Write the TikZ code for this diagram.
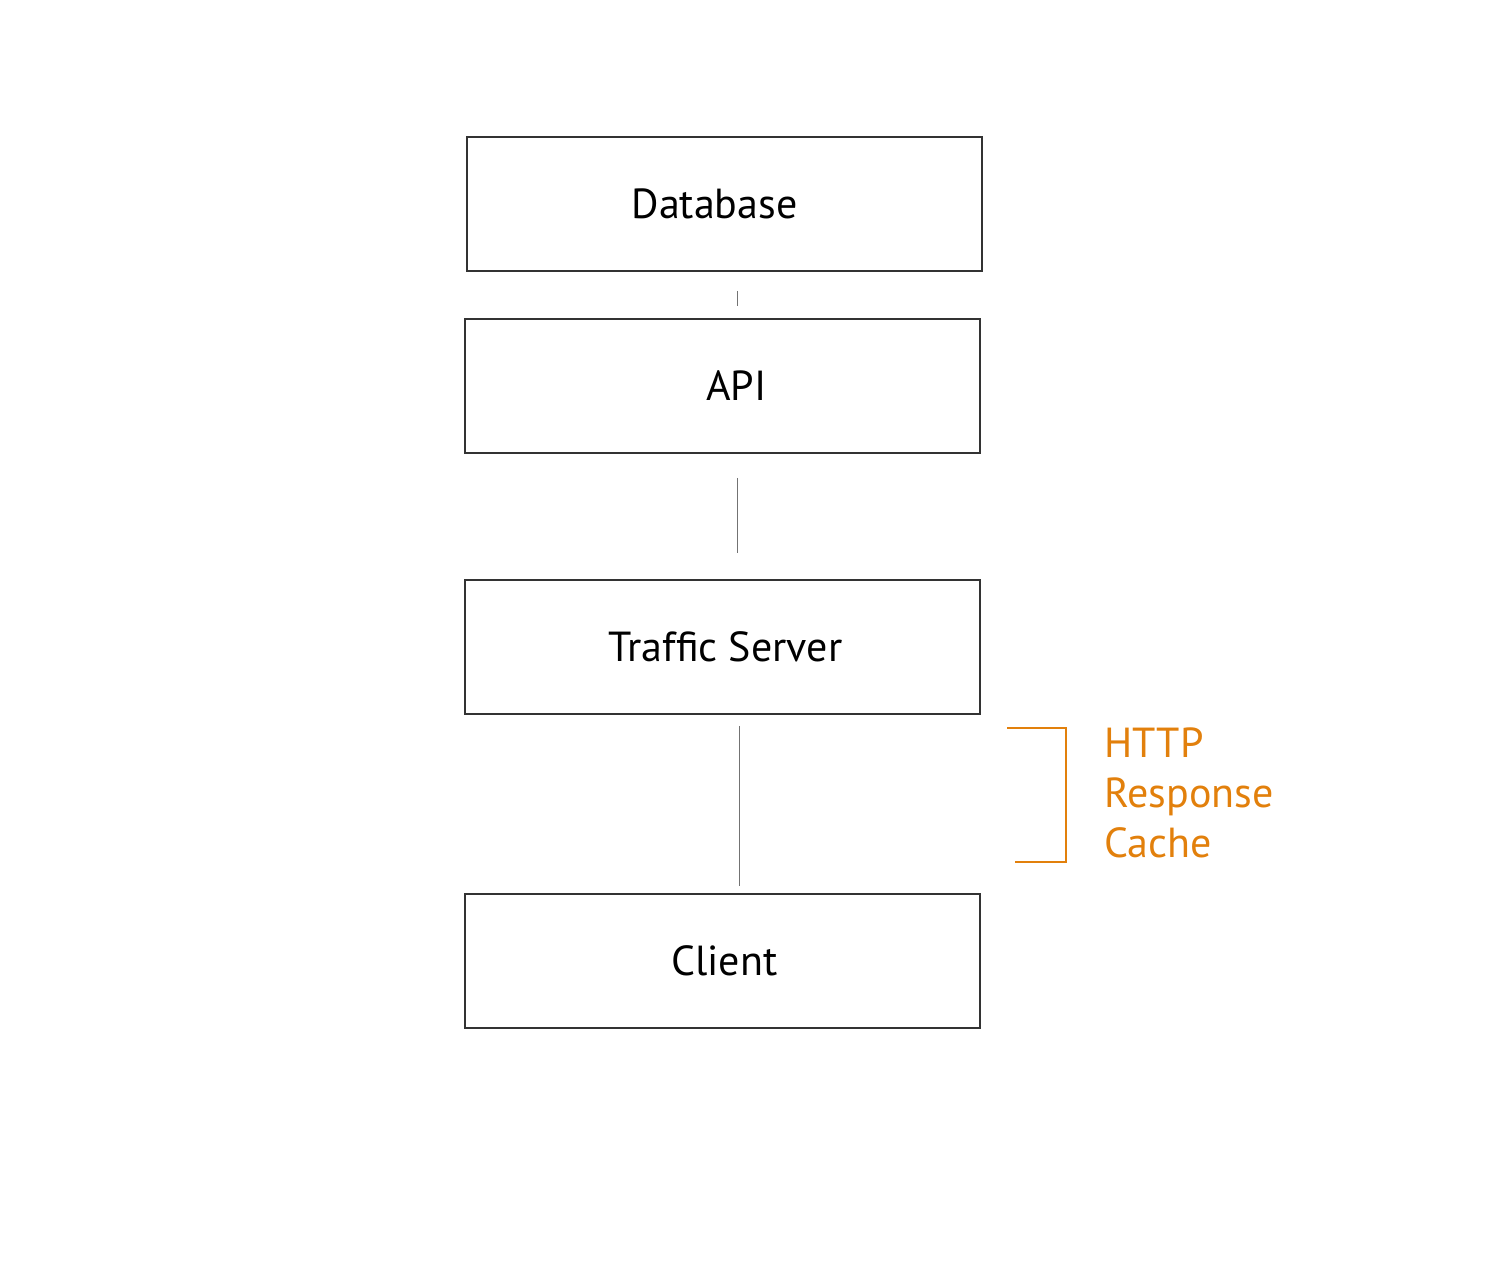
\documentclass[tikz,border=0pt]{standalone}
\usepackage{fontspec}
\setmainfont{PT Sans}
\usetikzlibrary{positioning}
\definecolor{cacheorange}{RGB}{226,128,12}
\tikzset{
  tier/.style={draw=black!80,line width=0.75pt,minimum width=257.5pt,minimum height=67pt,font=\fontsize{21}{25}\selectfont},
  link/.style={draw=black!55,line width=0.5pt}
}
\begin{document}
\begin{tikzpicture}[x=0.5pt,y=-0.5pt]
  \useasboundingbox (0,0) rectangle (1494,1287);
  \node[tier] (db) at (724.5,204) {Database\kern10pt};
  \node[tier] (api) at (722.5,386) {\hspace{14pt}API};
  \node[tier] (ts) at (722.5,647) {\hspace{3pt}Traffic Server};
  \node[tier] (client) at (722.5,961) {\hspace{2pt}Client};
  \draw[link,shorten <=9.5pt,shorten >=6pt] ([xshift=6.5pt]db.south) -- ([xshift=7.5pt]api.north);
  \draw[link,shorten <=12pt,shorten >=13pt] ([xshift=7.5pt]api.south) -- ([xshift=7.5pt]ts.north);
  \draw[link,shorten <=5.5pt,shorten >=3.5pt] ([xshift=8.5pt]ts.south) -- ([xshift=8.5pt]client.north);
  % cache bracket
  \coordinate (bt) at (1007,728);
  \coordinate (bb) at (1015,862);
  \draw[cacheorange,line width=0.6pt] (bt) -- (1066,728) -- (1066,862) -- (bb);
  \node[cacheorange,anchor=north west,align=left,inner sep=0pt,font=\fontsize{21}{25}\selectfont] (cache) at (1104,727) {HTTP\\Response\\Cache};
\end{tikzpicture}
\end{document}
